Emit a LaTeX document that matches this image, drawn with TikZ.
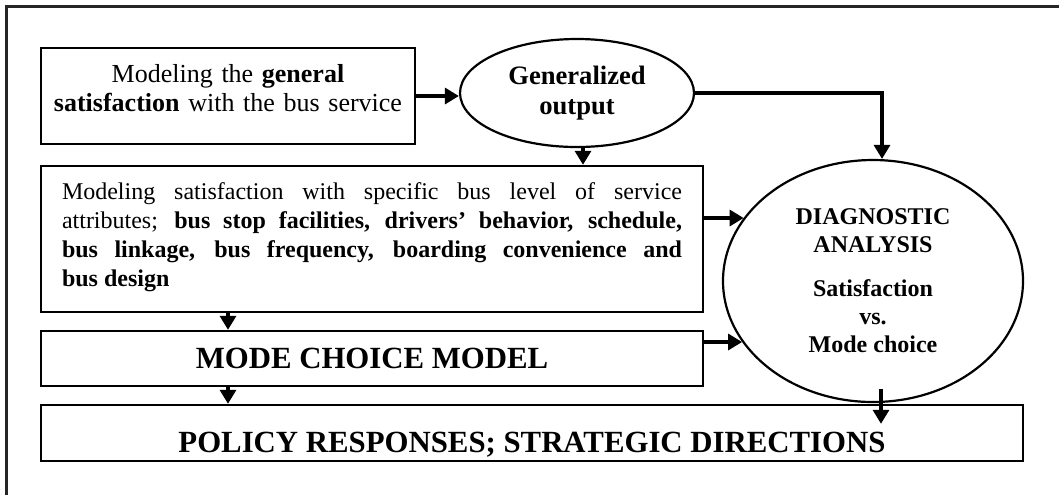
\documentclass[tikz,border=0pt]{standalone}
\usepackage{fontspec}
\setmainfont{Liberation Serif}
\usetikzlibrary{arrows.meta,shapes.geometric}

\begin{document}
\begin{tikzpicture}[x=0.5pt,y=-0.5pt,
    box/.style={draw,line width=1.2pt,inner sep=0pt},
    oval/.style={draw,ellipse,line width=1.1pt,inner sep=0pt,align=center},
    arr/.style={-{Triangle[length=7pt,width=8pt]},line width=1.6pt}]
    \useasboundingbox (0,0) rectangle (1059,495);
    \draw[line width=1.5pt,black!85] (6,495) |- (1059,6);

    \node[box,text width=187pt,align=center,text height=17pt,text depth=31pt,
      font=\fontsize{13}{14.5}\selectfont] (general) at (228,96)
      {Modeling the \textbf{general}\\ \textbf{satisfaction} with the bus service};
    \node[oval,minimum width=117pt,minimum height=54pt,
      font=\fontsize{13.3}{15}\selectfont\bfseries] (gen) at (577,93)
      {Generalized\\ output};
    \node[box,text width=310pt,inner xsep=10.5pt,align=justify,text height=16.5pt,text depth=56.5pt,
      font=\fontsize{12}{14.6}\selectfont] (attrib) at (372,239)
      {Modeling satisfaction with specific bus level of service\linebreak
       attributes; \textbf{bus stop facilities, drivers' behavior, schedule,\linebreak
       bus linkage, bus frequency, boarding convenience and\linebreak
       bus design}};
    \node[box,minimum width=331pt,text height=18.5pt,text depth=9pt,
      font=\fontsize{15.4}{18}\selectfont\bfseries] (mode) at (372,358.5)
      {MODE CHOICE MODEL};
    \node[box,minimum width=491pt,text height=23.5pt,text depth=4.5pt,
      font=\fontsize{15.4}{18}\selectfont\bfseries] (policy) at (532,433)
      {POLICY RESPONSES; STRATEGIC DIRECTIONS};
    \node[oval,minimum width=150pt,minimum height=121pt,
      font=\fontsize{12}{14}\selectfont\bfseries] (diag) at (873,281)
      {DIAGNOSTIC\\ ANALYSIS\\[8pt] Satisfaction\\ vs.\\ Mode choice};

    \draw[arr] (general.east) -- (general.east -| gen.west);
    \draw[arr] ([xshift=3pt]gen.south) -- ([xshift=3pt]gen.south |- attrib.north);
    \draw[arr] (gen.east) -| ([xshift=4.5pt]diag.north);
    \draw[arr] ([yshift=10.5pt]attrib.east) -- ([yshift=10.5pt]attrib.east -| diag.154);
    \draw[arr] ([yshift=8.25pt]mode.east) -- ([yshift=8.25pt]mode.east -| diag.205);
    \draw[arr] (attrib.south -| general.center) -- (mode.north -| general.center);
    \draw[arr] (mode.south -| general.center) -- (policy.north -| general.center);
    \draw[arr] ([xshift=4pt,yshift=7pt]diag.south) -- ([xshift=4pt,yshift=-10pt]diag.south |- policy.north);
\end{tikzpicture}
\end{document}
